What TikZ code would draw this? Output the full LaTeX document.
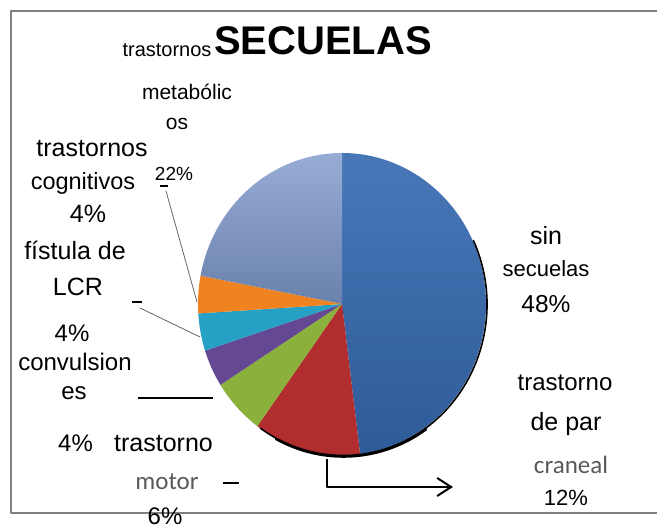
\documentclass[tikz,border=0pt]{standalone}
\usepackage{fontspec}
\setmainfont{Liberation Sans}
\newfontfamily\calfont{Carlito}
\usetikzlibrary{arrows.meta}
\definecolor{azul}{RGB}{52,104,175}
\definecolor{azulclaro}{RGB}{125,152,203}
\definecolor{rojo}{RGB}{178,45,45}
\definecolor{verde}{RGB}{140,176,60}
\definecolor{morado}{RGB}{100,72,145}
\definecolor{cian}{RGB}{38,160,196}
\definecolor{naranja}{RGB}{240,130,32}
\begin{document}
\begin{tikzpicture}[x=1pt, y=1pt, line join=round, line cap=round,
		etq/.style={anchor=base, inner sep=0pt, font=\fontsize{#1}{#1}\selectfont},
		gris/.style={anchor=base, inner sep=0pt, text=black!65, font=\calfont\fontsize{#1}{#1}\selectfont},
		guia/.style={draw=black!60, line width=0.8pt},
		raya/.style={line width=2pt, line cap=butt}]
	\useasboundingbox (0,0) rectangle (657,529);
	% Marco
	\draw[black!50, line width=1.2pt, line cap=butt] (657,518) -- (11,518) -- (11,16) -- (657,16);
	% Sectores (48, 12, 6, 4, 4, 4, 22 %)
	\coordinate (c) at (342,225);
	\shade[top color=azul!90!white, bottom color=azul!88!black] (c) -- ++(-82.8:144 and 151) arc[start angle=-82.8, end angle=90, x radius=144, y radius=151] -- cycle;
	\fill[rojo] (c) -- ++(-126:144 and 151) arc[start angle=-126, end angle=-82.8, x radius=144, y radius=151] -- cycle;
	\fill[verde] (c) -- ++(-147.6:144 and 151) arc[start angle=-147.6, end angle=-126, x radius=144, y radius=151] -- cycle;
	\fill[morado] (c) -- ++(-162:144 and 151) arc[start angle=-162, end angle=-147.6, x radius=144, y radius=151] -- cycle;
	\fill[cian] (c) -- ++(-176.4:144 and 151) arc[start angle=-176.4, end angle=-162, x radius=144, y radius=151] -- cycle;
	\fill[naranja] (c) -- ++(169.2:144 and 151) arc[start angle=169.2, end angle=183.6, x radius=144, y radius=151] -- cycle;
	\shade[top color=azulclaro!80!white, bottom color=azulclaro!85!black] (c) -- ++(90:144 and 151) arc[start angle=90, end angle=169.2, x radius=144, y radius=151] -- cycle;
	% Borde oscuro
	\draw[line width=1.6pt] ([shift={(1,-0.5)}]c) ++(25:144 and 151) arc[start angle=25, end angle=-125, x radius=144, y radius=151];
	\draw[line width=2.6pt] ([shift={(1.5,-1.5)}]c) ++(-55:144 and 151) arc[start angle=-55, end angle=-118, x radius=144, y radius=151];
	% Titulo
	\node[anchor=base, inner sep=0pt, font=\bfseries\fontsize{40}{40}\selectfont] (titulo) at (323,474) {SECUELAS};
	% Etiquetas izquierda
	\node[etq=20] (met1) at (167,472) {trastornos};
	\node[etq=21] (met2) at (187,429) {metabólic};
	\node[etq=21] (met3) at (177,399) {os};
	\node[etq=19] (met4) at (174,348) {22\%};
	\node[etq=25] (cog1) at (92,372) {trastornos};
	\node[etq=23.5] (cog2) at (83,339) {cognitivos};
	\node[etq=25] (cog3) at (88,306) {4\%};
	\node[etq=25] (fis1) at (75,269) {fístula de};
	\node[etq=25] (fis2) at (78,233) {LCR};
	\node[etq=24] (fis3) at (72,187) {4\%};
	\node[etq=24] (con1) at (75,158) {convulsion};
	\node[etq=24] (con2) at (74,129) {es};
	\node[etq=24] (con3) at (75.5,77) {4\%};
	\node[etq=25] (mot1) at (163.5,77) {trastorno};
	\node[gris=25] (mot2) at (167,39) {motor};
	\node[etq=24] (mot3) at (165,4) {6\%};
	% Etiquetas derecha
	\node[etq=25] (sin1) at (546,284) {sin};
	\node[etq=22] (sin2) at (546,252) {secuelas};
	\node[etq=24.5] (sin3) at (546,216) {48\%};
	\node[etq=24] (par1) at (565,138) {trastorno};
	\node[etq=25] (par2) at (566,98) {de par};
	\node[gris=25] (par3) at (571,55) {craneal};
	\node[etq=22] (par4) at (566,23) {12\%};
	% Lineas guia
	\coordinate (g1a) at (160,343);
	\coordinate (g1b) at (168,343);
	\coordinate (g1c) at (197,227);
	\draw[raya] (g1a) -- (g1b);
	\draw[guia] (166,338) -- (g1c);
	\coordinate (g2a) at (132,227);
	\coordinate (g2b) at (142,227);
	\coordinate (g2c) at (200,192);
	\draw[raya] (g2a) -- (g2b);
	\draw[guia] (140,221) -- (g2c);
	\coordinate (r1a) at (138,131);
	\coordinate (r1b) at (213,131);
	\draw[raya] (r1a) -- (r1b);
	\coordinate (r2a) at (223,46);
	\coordinate (r2b) at (239,46);
	\draw[raya] (r2a) -- (r2b);
	% Flecha
	\coordinate (f1) at (327,70);
	\coordinate (f2) at (327,42);
	\coordinate (f3) at (453,42);
	\draw[raya, -{Straight Barb[length=14pt, width=18pt]}] (f1) -- (f2) -- (f3);
\end{tikzpicture}
\end{document}
